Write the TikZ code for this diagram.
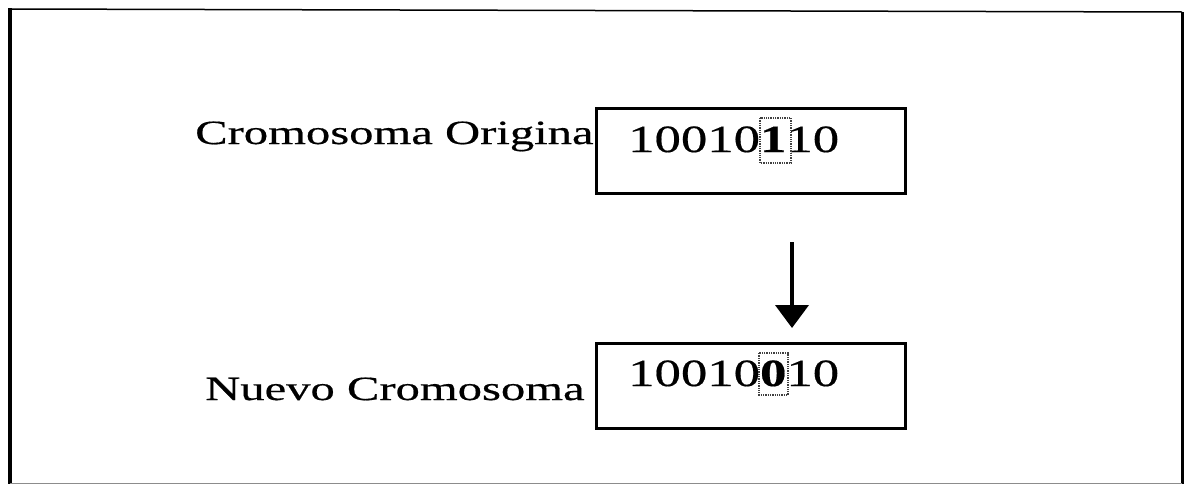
\documentclass[tikz,border=0pt]{standalone}
\usepackage{fontspec}
\setmainfont{Liberation Serif}[FakeBold=0.4]
\usetikzlibrary{arrows.meta}
\begin{document}
\begin{tikzpicture}[x=1pt,y=-1pt,
  lbl/.style={anchor=base west, inner sep=0pt, font=\fontsize{34}{40}\selectfont},
  bits/.style={anchor=base west, inner sep=0pt, font=\fontsize{38.5}{44}\selectfont},
  chrbox/.style={draw, line width=3pt, minimum width=309pt, minimum height=85pt, inner sep=0pt},
  hl/.style={draw, line width=1.3pt, black!75, densely dotted},
  frame/.style={line width=1.5pt}]
\useasboundingbox (0,0) rectangle (1184,485);
% outer frame
\draw[frame] (10,9) -- (1182,12);
\draw[line width=3.5pt] (10,8) -- (10,484);
\draw[line width=3pt] (1182,12) -- (1182,484);
\draw[line width=1pt, black!45] (10,483.5) -- (1182,483.5);
% boxes
\node[chrbox] (orig) at (750.5,150.5) {};
\node[chrbox] (nuevo) at (750.5,385.5) {};
% labels
\node[lbl] (lorig) at (195,144) {\scalebox{1.43}[1]{Cromosoma Origina}};
\node[lbl] (lnuevo) at (205,400) {\scalebox{1.43}[1]{Nuevo Cromosoma}};
% bit strings
\node[bits] (borig) at (628,152) {\scalebox{1.37}[1]{10010\textbf{1}10}};
\node[bits] (bnuevo) at (628,386) {\scalebox{1.37}[1]{10010\textbf{0}10}};
% highlights
\draw[hl] (760,118) rectangle (791,163);
\draw[hl] (759,353) rectangle (788,395);
% arrow
\coordinate (a1) at (792,242);
\coordinate (a2) at (792,328);
\draw[line width=4pt, -{Triangle[width=33pt,length=23pt]}] (a1) -- (a2);
\end{tikzpicture}
\end{document}
